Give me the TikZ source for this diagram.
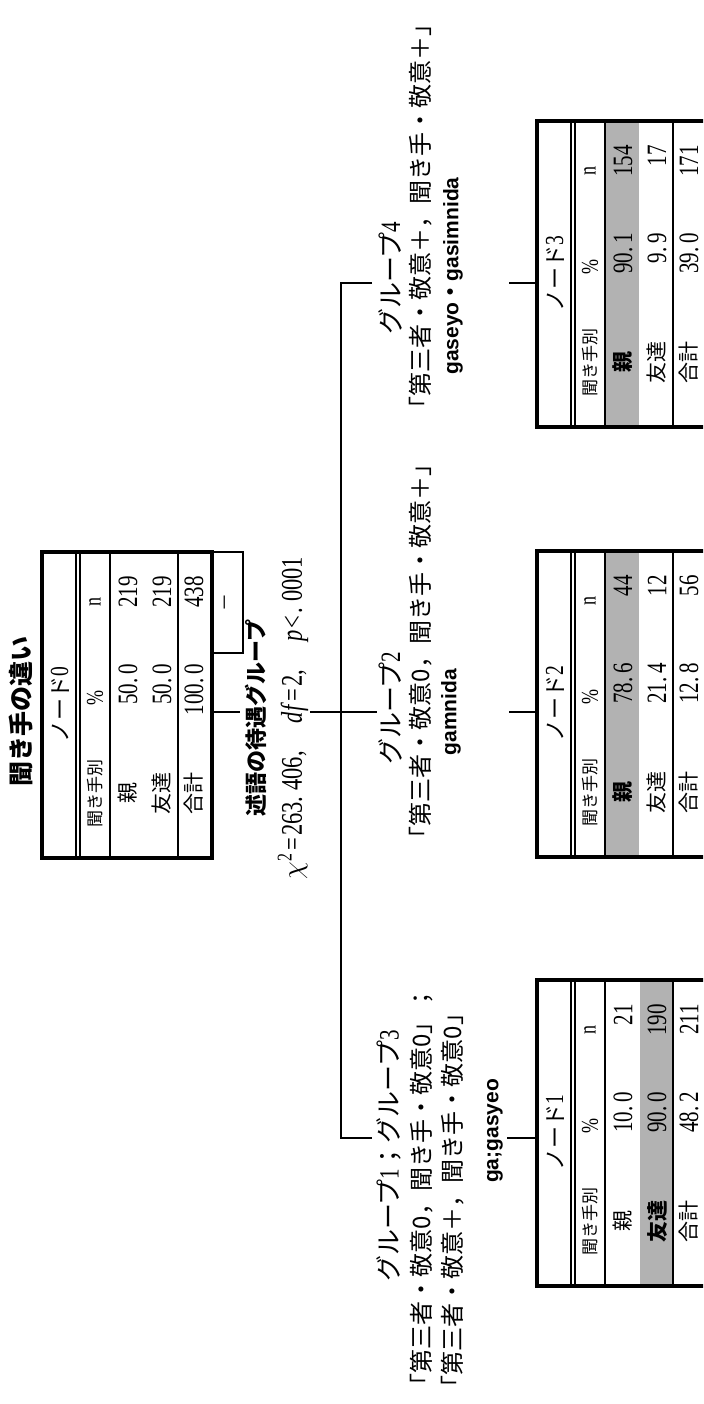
\documentclass[tikz,border=0pt]{standalone}
\usepackage{fontspec}
\newfontfamily\jp{Noto Sans CJK JP}
\newfontfamily\numf{Liberation Serif}[FakeStretch=0.75]
\newfontfamily\lsans{Liberation Sans}
\newcommand{\fz}[1]{\fontsize{#1}{#1}\selectfont}
\newcommand{\dt}{.\kern2pt}
\newcommand{\rlA}{親}
\newcommand{\rlB}{友達}
% table: #1 X0, #2 Y0, #3 node digit, #4 pct1, #5 n1, #6 pct2, #7 n2, #8 pctT, #9 nT
\newcommand{\ctable}[9]{%
  \draw[tline] ({#1+34},{#2}) -- ({#1+34},{#2+306});
  \draw[tline] ({#1+38},{#2}) -- ({#1+38},{#2+306});
  \draw[tline] ({#1+68},{#2}) -- ({#1+68},{#2+306});
  \draw[tline] ({#1+136},{#2}) -- ({#1+136},{#2+306});
  \node[tframe] (n#3) at ({#1+85},{#2+153}) {};
  \node[hdr] (n#3h) at ({#1+18},{#2+153}) {ノード{\numf\fz{13}#3}};
  \node[colh] (n#3c) at ({#1+53},{#2+241}) {聞き手別};
  \node[colh2] (n#3p) at ({#1+53},{#2+146}) {\%};
  \node[colh2] (n#3n) at ({#1+53},{#2+50}) {n};
  \node[rowl] (n#3la) at ({#1+86},{#2+241}) {\rlA};
  \node[num] (n#3pa) at ({#1+86},{#2+112}) {#4};
  \node[num] (n#3na) at ({#1+86},{#2+24}) {#5};
  \node[rowl] (n#3lb) at ({#1+120},{#2+241}) {\rlB};
  \node[num] (n#3pb) at ({#1+120},{#2+112}) {#6};
  \node[num] (n#3nb) at ({#1+120},{#2+24}) {#7};
  \node[rowl] (n#3lt) at ({#1+152},{#2+241}) {合計};
  \node[num] (n#3pt) at ({#1+152},{#2+112}) {#8};
  \node[num] (n#3nt) at ({#1+152},{#2+24}) {#9};
}
\newcommand{\hlrow}[3]{\fill[hl] ({#1+#3},{#2+2}) rectangle ({#1+#3+33},{#2+304});}

\begin{document}
\begin{tikzpicture}[x=0.5pt,y=-0.5pt,
  every node/.style={inner sep=0pt, outer sep=0pt},
  rt/.style={rotate=90},
  tframe/.style={draw, line width=2pt, minimum width=85pt, minimum height=153pt},
  tline/.style={line width=0.75pt},
  conn/.style={line width=1pt},
  hl/.style={fill=black!30},
  hdr/.style={rt, font=\jp\fz{11}},
  colh/.style={rt, font=\jp\fz{8.5}},
  colh2/.style={rt, font=\numf\fz{12}},
  rowl/.style={rt, font=\jp\fz{10.5}},
  num/.style={rt, anchor=east, font=\numf\fz{14}},
  grp/.style={rt, font=\jp\fz{13}},
  brk/.style={rt, anchor=west, font=\jp\fz{12}},
  lat/.style={rt, font=\lsans\bfseries\fz{10.5}},
  ttl/.style={rt, font=\jp\bfseries\fz{12.5}}
]
\useasboundingbox (0,0) rectangle (703,1404);
\fill[white] (0,0) rectangle (703,1404);
\clip (0,0) rectangle (703,1404);

% title
\node[ttl] (title) at (21,711) {聞き手の違い};

% node 0
\ctable{42}{552}{0}{50\dt0}{219}{50\dt0}{219}{100\dt0}{438}
\node[rt, draw, line width=0.9pt, minimum width=50.5pt, minimum height=15.5pt, font=\jp\fz{9}] (d0) at (227.5,602.5) {－};

% split label
\coordinate (s0) at (240,712);
\draw[conn] (n0.east |- s0) -- (s0);
\node[rt, font=\jp\bfseries\fz{11}] (sl1) at (256,718) {述語の待遇グループ};
\node[rt, font=\numf\fz{15}] (sl2) at (293,718) {$\chi$\textsuperscript{2}\kern1pt=\kern1pt263.\kern3pt406,\hspace{14pt}\textit{df}\kern1pt=\kern1pt2,\hspace{14pt}\textit{p}\kern1pt<\kern1pt.\kern3pt0001};

% bus
\coordinate (m0) at (310,712);
\coordinate (m1) at (377,712);
\draw[conn] (m0) -- (m1);
\coordinate (b4) at (341,283);
\coordinate (t4) at (372,283);
\coordinate (b1) at (341,1138);
\coordinate (t1) at (372,1138);
\draw[conn] (t4) -- (b4) -- (b1) -- (t1);

% group 4
\node[grp] (g4h) at (390,278) {グループ{\numf\fz{14}4}};
\node[brk] (g4b) at (421,420) {「第三者・敬意＋，聞き手・敬意＋」};
\node[lat] (g4l) at (453,276) {gaseyo{\jp ・}gasimnida};
% group 2
\node[grp] (g2h) at (390,708) {グループ{\numf\fz{14}2}};
\node[brk] (g2b) at (421,850) {「第三者・敬意0，聞き手・敬意＋」};
\node[lat] (g2l) at (451,712) {gamnida};
% group 1
\node[grp] (g1h) at (389,1156) {グループ{\numf\fz{14}1}；グループ{\numf\fz{14}3}};
\node[brk] (g1b) at (422,1397) {「第三者・敬意0，聞き手・敬意0」；};
\node[brk] (g1c) at (453,1399) {「第三者・敬意＋，聞き手・敬意0」};
\node[lat] (g1l) at (495,1131) {ga;gasyeo};

% node 3
\renewcommand{\rlA}{\textbf{親}}
\hlrow{537}{121}{69}
\ctable{537}{121}{3}{90\dt1}{154}{9\dt9}{17}{39\dt0}{171}
% node 2
\hlrow{537}{551}{69}
\ctable{537}{551}{2}{78\dt6}{44}{21\dt4}{12}{12\dt8}{56}
% node 1
\renewcommand{\rlA}{親}
\renewcommand{\rlB}{\textbf{友達}}
\hlrow{537}{980}{103}
\ctable{537}{980}{1}{10\dt0}{21}{90\dt0}{190}{48\dt2}{211}

% child connectors
\coordinate (c3) at (509,283);
\draw[conn] (c3) -- (c3 -| n3.west);
\coordinate (c2) at (509,712);
\draw[conn] (c2) -- (c2 -| n2.west);
\coordinate (c1) at (507,1138);
\draw[conn] (c1) -- (c1 -| n1.west);
\end{tikzpicture}
\end{document}
